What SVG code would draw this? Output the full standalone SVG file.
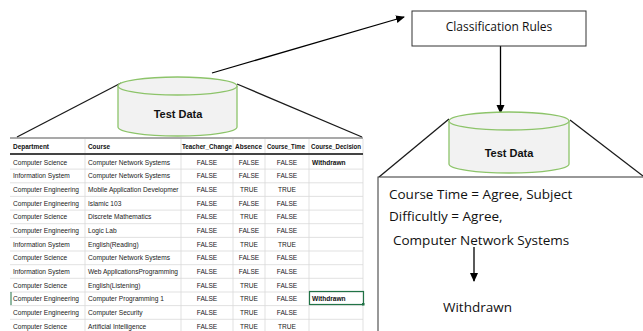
<svg xmlns="http://www.w3.org/2000/svg" width="643" height="331" viewBox="0 0 643 331">
<style>
.cyl{fill:#f2f2f2;stroke:#8dc46a;stroke-width:1.3}
.ln{stroke:#1a1a1a;stroke-width:1.3;fill:none}
.arr{stroke:#000;stroke-width:1.3;fill:none}
.t{font-family:"Liberation Sans",Arial,sans-serif;font-size:6.6px;fill:#222}
.th{font-family:"Liberation Sans",Arial,sans-serif;font-size:6.6px;font-weight:bold;fill:#111}
.c{text-anchor:middle}
.g{stroke:#d9d9d9;stroke-width:0.8}
.big{font-family:"Open Sans","Liberation Sans",sans-serif;font-size:13.5px;fill:#111}
.lbl{font-family:"Liberation Sans",Arial,sans-serif;font-size:11px;font-weight:bold;fill:#111;text-anchor:middle}
</style>
<defs>
<marker id="ah" markerWidth="10" markerHeight="10" refX="8" refY="5" orient="auto" markerUnits="userSpaceOnUse">
<path d="M0,1 L9,5 L0,9 z" fill="#000"/>
</marker>
</defs>

<g id="connectors">
<line class="ln" x1="121" y1="83" x2="17" y2="137"/>
<line class="ln" x1="237" y1="84" x2="362" y2="137"/>
<line class="arr" x1="212" y1="73" x2="404" y2="17" marker-end="url(#ah)"/>
<line class="arr" x1="500.5" y1="46" x2="500.5" y2="113" marker-end="url(#ah)"/>
<line class="ln" x1="449" y1="119" x2="379" y2="177"/>
<line class="ln" x1="570" y1="120" x2="643" y2="176"/>
</g>

<g id="test-data-1">
<path class="cyl" d="M118,86 L118,127 A59.5,9 0 0 0 237,127 L237,86 A59.5,9 0 0 0 118,86 Z"/>
<path class="cyl" fill="none" d="M118,86 A59.5,9 0 0 0 237,86"/>
<text class="lbl" x="178" y="118">Test Data</text>
</g>

<g id="classification-rules">
<rect x="412" y="11" width="174" height="35" fill="#fff" stroke="#333" stroke-width="1"/>
<text x="499" y="31" font-family="Open Sans,Liberation Sans,sans-serif" font-size="12" fill="#111" text-anchor="middle">Classification Rules</text>
</g>

<g id="test-data-2">
<path class="cyl" d="M449,121 L449,164 A60,9 0 0 0 569,164 L569,121 A60,9 0 0 0 449,121 Z"/>
<path class="cyl" fill="none" d="M449,121 A60,9 0 0 0 569,121"/>
<text class="lbl" x="509" y="157">Test Data</text>
</g>

<g id="result-box">
<rect x="378" y="177" width="300" height="200" fill="#fff" stroke="#333" stroke-width="1"/>
<text class="big" x="389" y="199">Course Time = Agree, Subject</text>
<text class="big" x="389" y="221">Difficultly = Agree,</text>
<text class="big" x="393" y="245">Computer Network Systems</text>
<line class="arr" x1="474" y1="247" x2="474" y2="281" marker-end="url(#ah)"/>
<text class="big" x="443" y="312">Withdrawn</text>
</g>

<g id="table">
<rect x="10" y="138" width="353" height="193" fill="#fff"/>
<g class="g">
<line x1="10" y1="169.1" x2="363" y2="169.1"/>
<line x1="10" y1="182.8" x2="363" y2="182.8"/>
<line x1="10" y1="196.4" x2="363" y2="196.4"/>
<line x1="10" y1="210.1" x2="363" y2="210.1"/>
<line x1="10" y1="223.7" x2="363" y2="223.7"/>
<line x1="10" y1="237.4" x2="363" y2="237.4"/>
<line x1="10" y1="251" x2="363" y2="251"/>
<line x1="10" y1="264.7" x2="363" y2="264.7"/>
<line x1="10" y1="278.3" x2="363" y2="278.3"/>
<line x1="10" y1="292" x2="363" y2="292"/>
<line x1="10" y1="305.6" x2="363" y2="305.6"/>
<line x1="10" y1="319.3" x2="363" y2="319.3"/>
<line x1="85" y1="139" x2="85" y2="331"/>
<line x1="181" y1="139" x2="181" y2="331"/>
<line x1="233" y1="139" x2="233" y2="331"/>
<line x1="265" y1="139" x2="265" y2="331"/>
<line x1="309" y1="139" x2="309" y2="331"/>
<line x1="363" y1="139" x2="363" y2="331"/>
</g>
<line x1="10" y1="138" x2="363" y2="138" stroke="#555" stroke-width="1.2"/>
<line x1="10" y1="154" x2="363" y2="154" stroke="#444" stroke-width="2"/>
<text class="th" x="13" y="149" textLength="36" lengthAdjust="spacingAndGlyphs">Department</text>
<text class="th" x="88" y="149" textLength="22" lengthAdjust="spacingAndGlyphs">Course</text>
<text class="th" x="182" y="149" textLength="50" lengthAdjust="spacingAndGlyphs">Teacher_Change</text>
<text class="th" x="235" y="149" textLength="27" lengthAdjust="spacingAndGlyphs">Absence</text>
<text class="th" x="267" y="149" textLength="38" lengthAdjust="spacingAndGlyphs">Course_Time</text>
<text class="th" x="311" y="149" textLength="50" lengthAdjust="spacingAndGlyphs">Course_Decision</text>

<g class="t">
<text x="13" y="164.8">Computer Science</text><text x="88" y="164.8">Computer Network Systems</text>
<text x="13" y="178.4">Information System</text><text x="88" y="178.4">Computer Network Systems</text>
<text x="13" y="192.1">Computer Engineering</text><text x="88" y="192.1">Mobile Application Developmer</text>
<text x="13" y="205.7">Computer Engineering</text><text x="88" y="205.7">Islamic 103</text>
<text x="13" y="219.4">Computer Science</text><text x="88" y="219.4">Discrete Mathematics</text>
<text x="13" y="233">Computer Engineering</text><text x="88" y="233">Logic Lab</text>
<text x="13" y="246.7">Information System</text><text x="88" y="246.7">English(Reading)</text>
<text x="13" y="260.3">Computer Science</text><text x="88" y="260.3">Computer Network Systems</text>
<text x="13" y="274">Information System</text><text x="88" y="274">Web ApplicationsProgramming</text>
<text x="13" y="287.6">Computer Science</text><text x="88" y="287.6">English(Listening)</text>
<text x="13" y="301.3">Computer Engineering</text><text x="88" y="301.3">Computer Programming 1</text>
<text x="13" y="314.9">Computer Engineering</text><text x="88" y="314.9">Computer  Security</text>
<text x="13" y="328.6">Computer Science</text><text x="88" y="328.6">Artificial Intelligence</text>
</g>
<g class="t c">
<text x="207" y="164.8">FALSE</text><text x="249" y="164.8">FALSE</text><text x="287" y="164.8">FALSE</text>
<text x="207" y="178.4">FALSE</text><text x="249" y="178.4">FALSE</text><text x="287" y="178.4">FALSE</text>
<text x="207" y="192.1">FALSE</text><text x="249" y="192.1">TRUE</text><text x="287" y="192.1">TRUE</text>
<text x="207" y="205.7">FALSE</text><text x="249" y="205.7">FALSE</text><text x="287" y="205.7">FALSE</text>
<text x="207" y="219.4">FALSE</text><text x="249" y="219.4">TRUE</text><text x="287" y="219.4">FALSE</text>
<text x="207" y="233">FALSE</text><text x="249" y="233">FALSE</text><text x="287" y="233">FALSE</text>
<text x="207" y="246.7">FALSE</text><text x="249" y="246.7">TRUE</text><text x="287" y="246.7">TRUE</text>
<text x="207" y="260.3">FALSE</text><text x="249" y="260.3">FALSE</text><text x="287" y="260.3">FALSE</text>
<text x="207" y="274">FALSE</text><text x="249" y="274">FALSE</text><text x="287" y="274">FALSE</text>
<text x="207" y="287.6">FALSE</text><text x="249" y="287.6">TRUE</text><text x="287" y="287.6">FALSE</text>
<text x="207" y="301.3">FALSE</text><text x="249" y="301.3">TRUE</text><text x="287" y="301.3">FALSE</text>
<text x="207" y="314.9">FALSE</text><text x="249" y="314.9">TRUE</text><text x="287" y="314.9">FALSE</text>
<text x="207" y="328.6">FALSE</text><text x="249" y="328.6">TRUE</text><text x="287" y="328.6">TRUE</text>
</g>
<text class="th" x="312" y="164.8">Withdrawn</text>
<rect x="309.5" y="291.5" width="54" height="13" fill="none" stroke="#217346" stroke-width="1.2"/>
<rect x="362" y="303" width="2.5" height="2.5" fill="#217346"/>
<text class="th" x="312" y="301.3">Withdrawn</text>
<line x1="11" y1="292" x2="11" y2="305" stroke="#217346" stroke-width="1"/>
</g>
</svg>
